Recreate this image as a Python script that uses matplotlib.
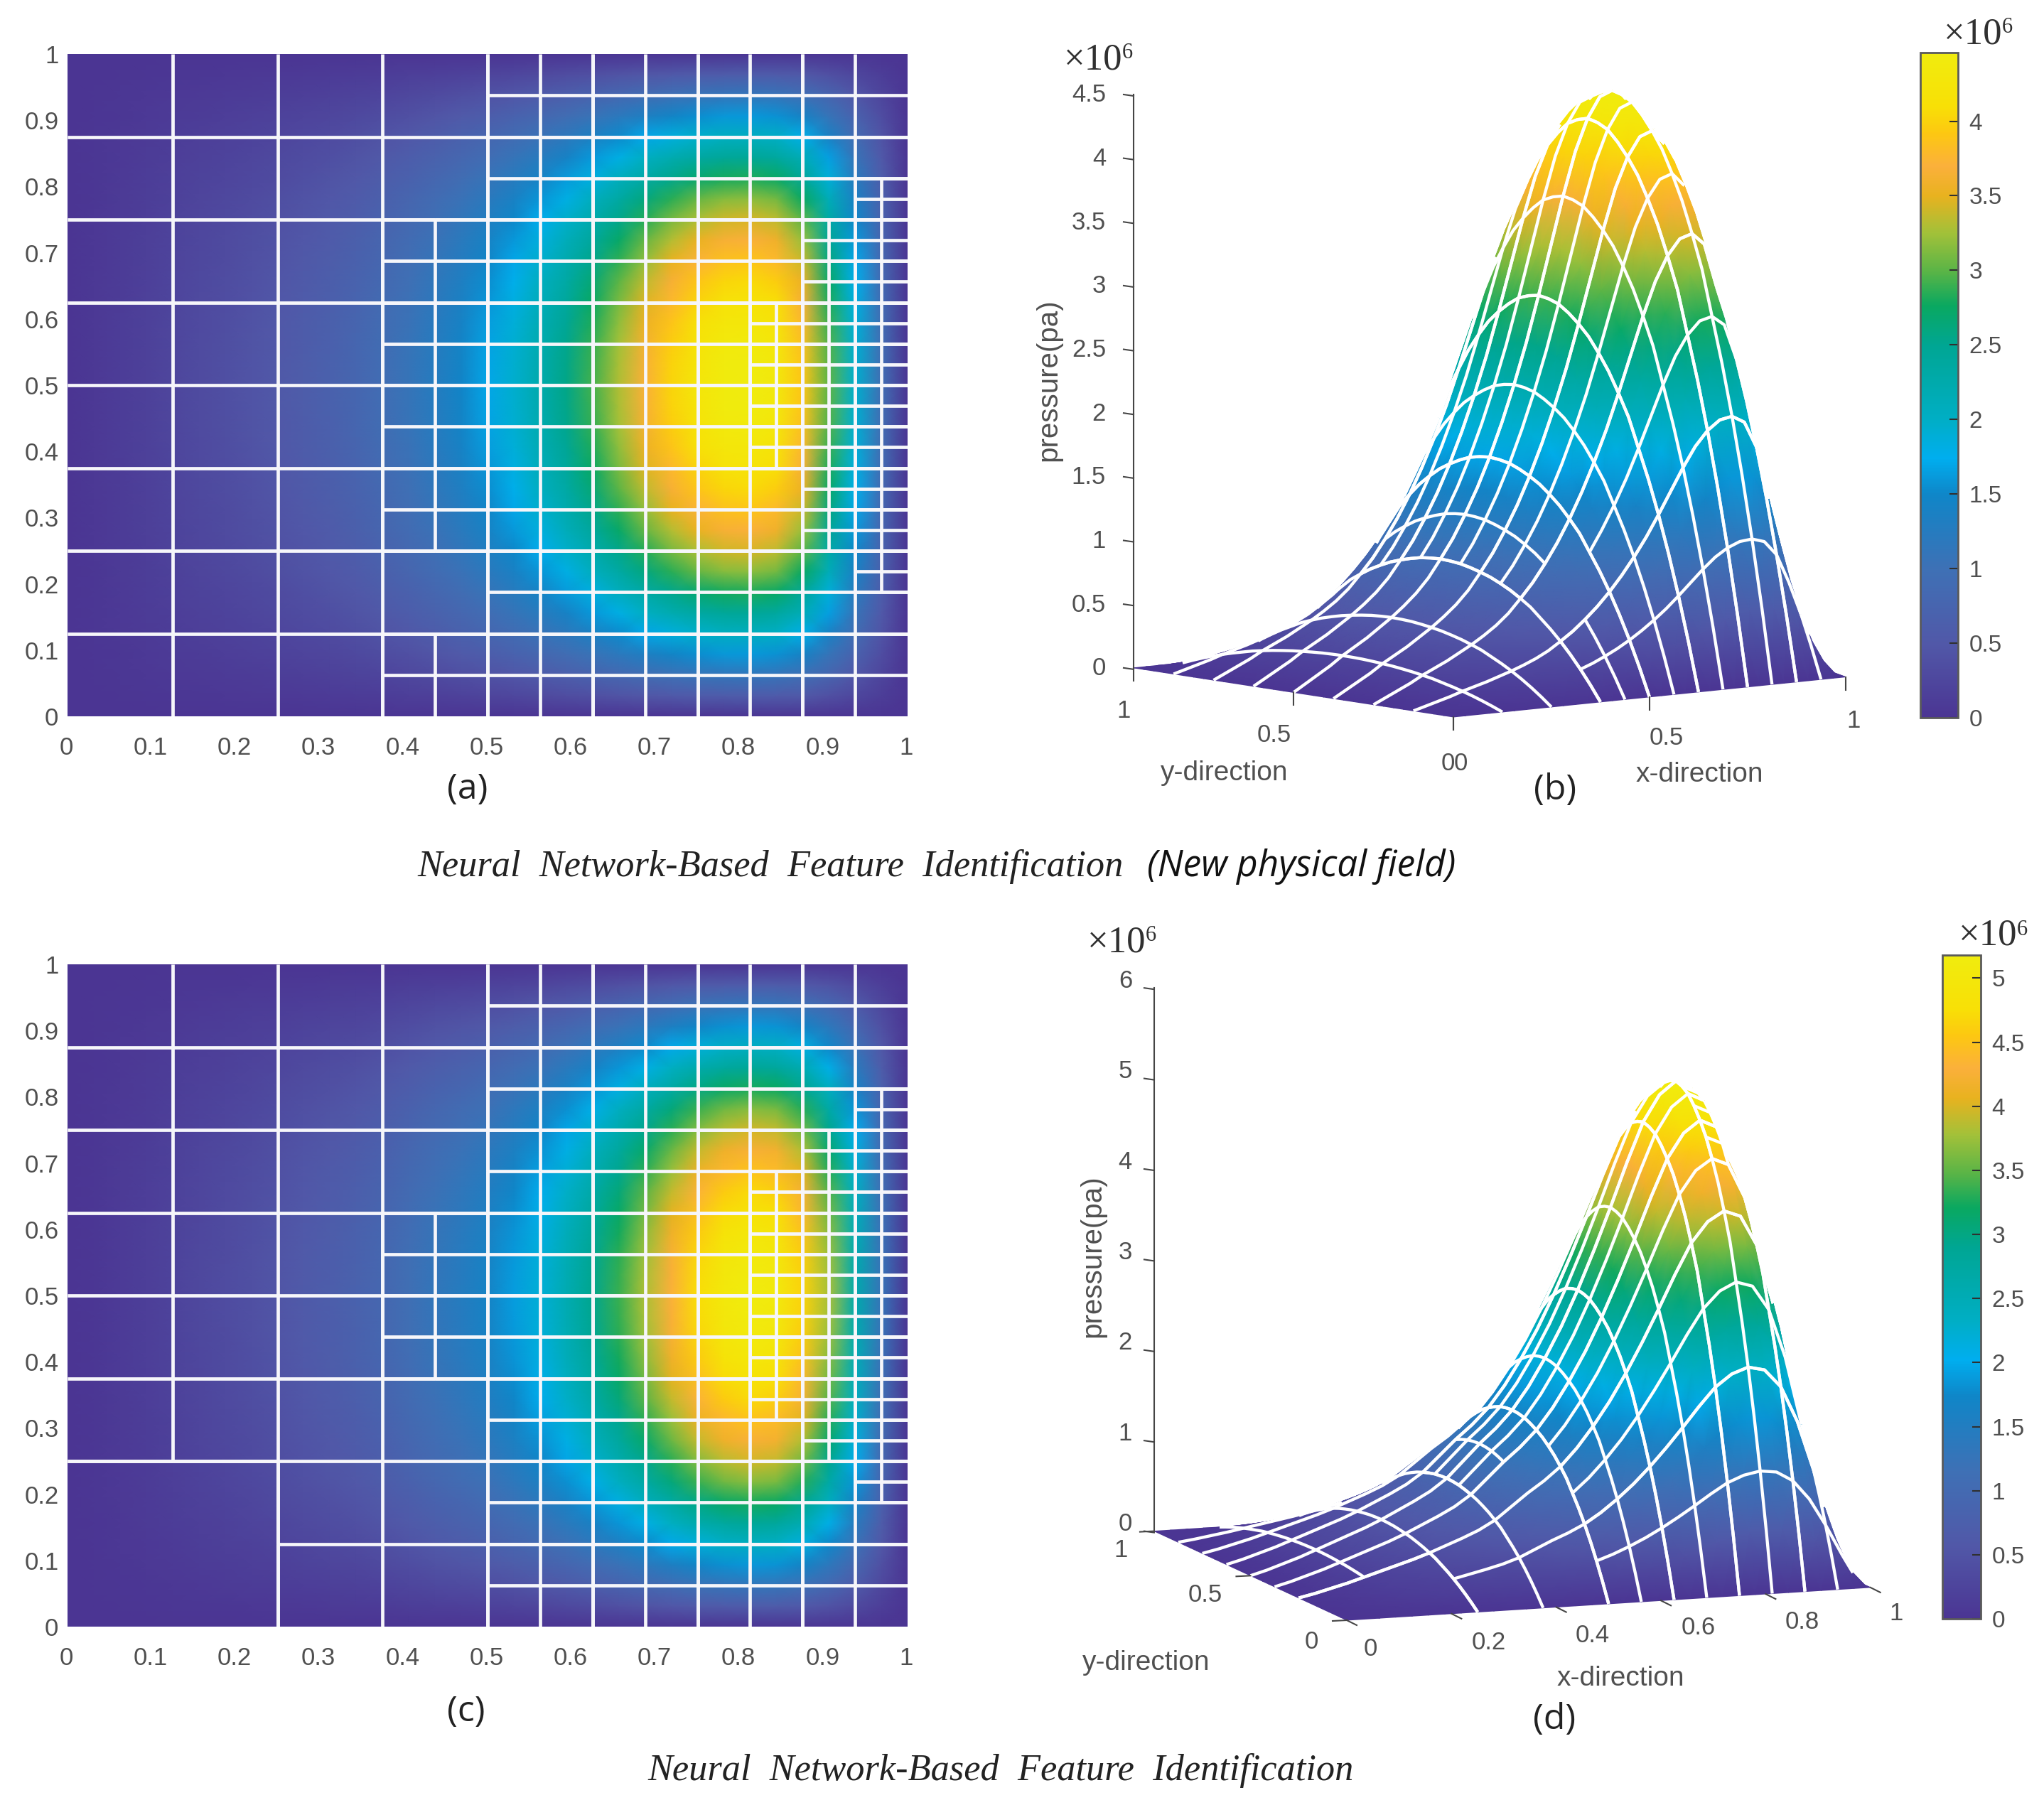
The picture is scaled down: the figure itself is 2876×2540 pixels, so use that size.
import numpy as np
import matplotlib
matplotlib.use('Agg')
import matplotlib.pyplot as plt
from matplotlib.cm import ScalarMappable
from matplotlib.colors import LinearSegmentedColormap, Normalize
from matplotlib.transforms import ScaledTranslation

W, H = 2876, 2540

# pressure profiles (x 1e6 Pa), step 1/32 in x
p_x_top = [0, .06, .12, .18, .25, .31, .37, .44, .51, .59, .68, .79, .93, 1.08, 1.26, 1.46, 1.69,
           1.95, 2.24, 2.56, 2.92, 3.30, 3.68, 4.02, 4.27, 4.43, 4.47, 4.35, 3.9, 3.0, 1.95, .95, 0]
p_x_bot = [0, .05, .11, .17, .24, .31, .38, .45, .53, .62, .71, .81, .94, 1.12, 1.30, 1.46, 1.65,
           1.9, 2.2, 2.54, 2.93, 3.36, 3.82, 4.3, 4.74, 5.03, 5.17, 5.08, 4.65, 3.8, 2.6, 1.25, 0]
# relative pressure across y, same step
p_y_rel = [0, .13, .25, .36, .46, .55, .63, .71, .77, .825, .87, .91, .94, .965, .985, .995, 1,
           .995, .985, .965, .94, .91, .87, .825, .77, .71, .63, .55, .46, .36, .25, .13, 0]

vmax_top = 4.46
vmax_bot = 5.18

cmap_pos = [0, .11, .22, .335, .39, .45, .56, .62, .67, .73, .785, .83, .88, .92, 1]
cmap_col = ['#4b3593', '#5158a8', '#3f70b5', '#0f86c8', '#00aeef', '#00aec4', '#00a693', '#0aa860',
            '#58b447', '#a3c139', '#e8b21f', '#fbb03b', '#fdc811', '#f8e006', '#f0ec0e']
parula = LinearSegmentedColormap.from_list('scan', list(zip(cmap_pos, cmap_col)), N=512)

# refined regions of the quadtree: x0, x1, y0, y1, cell size (in 1/32 units)
base_right = [(16, 32, 0, 32, 2)]
cells_top = base_right + [(12, 16, 8, 24, 2), (12, 16, 0, 4, 2),
                          (30, 32, 6, 26, 1), (28, 30, 8, 24, 1), (26, 28, 12, 20, 1)]
cells_bot = base_right + [(12, 16, 12, 20, 2),
                          (30, 32, 6, 26, 1), (28, 30, 8, 24, 1), (26, 28, 10, 22, 1)]
merged_bot = [(0, 8, 0, 8)]

heat_ticks = [0, .1, .2, .3, .4, .5, .6, .7, .8, .9, 1]
heat_labels = ['0', '0.1', '0.2', '0.3', '0.4', '0.5', '0.6', '0.7', '0.8', '0.9', '1']
cbar_ticks_top = [0, .5, 1, 1.5, 2, 2.5, 3, 3.5, 4]
cbar_ticks_bot = [0, .5, 1, 1.5, 2, 2.5, 3, 3.5, 4, 4.5, 5]
cbar_labels_top = ['0', '0.5', '1', '1.5', '2', '2.5', '3', '3.5', '4']
cbar_labels_bot = ['0', '0.5', '1', '1.5', '2', '2.5', '3', '3.5', '4', '4.5', '5']
z_ticks_b = [0, .5, 1, 1.5, 2, 2.5, 3, 3.5, 4, 4.5]
z_labels_b = ['0', '0.5', '1', '1.5', '2', '2.5', '3', '3.5', '4', '4.5']
z_ticks_d = [0, 1, 2, 3, 4, 5, 6]
x_ticks_b = [0, .5, 1]
x_labels_b = ['0', '0.5', '1']
y_ticks_b = [0, .5, 1]
y_labels_b = ['0', '0.5', '1']
x_ticks_d = [0, .2, .4, .6, .8, 1]
x_labels_d = ['0', '0.2', '0.4', '0.6', '0.8', '1']
y_ticks_d = [0, .5, 1]
y_labels_d = ['0', '0.5', '1']

TXT = '#505050'
SANS = 'Liberation Sans'
FS = 25

grid = np.linspace(0, 1, 33)
Z_top = np.outer(p_y_rel, p_x_top)
Z_bot = np.outer(p_y_rel, p_x_bot)


def leaf_edges(regions, merged=()):
    # walks the 1/8 base grid and returns every inner cell edge
    edges = set()

    def rect(x0, x1, y0, y1):
        if x0 > 0:
            edges.add((x0, y0, x0, y1))
        if x1 < 32:
            edges.add((x1, y0, x1, y1))
        if y0 > 0:
            edges.add((x0, y0, x1, y0))
        if y1 < 32:
            edges.add((x0, y1, x1, y1))

    for i in range(0, 32, 4):
        for j in range(0, 32, 4):
            if any(m[0] <= i < m[1] and m[2] <= j < m[3] for m in merged):
                continue
            rect(i, i + 4, j, j + 4)
    for m in merged:
        rect(*m)
    for r in regions:
        for i in np.arange(r[0], r[1], r[4]):
            for j in np.arange(r[2], r[3], r[4]):
                rect(int(i), int(i + r[4]), int(j), int(j + r[4]))
    return [tuple(v / 32 for v in e) for e in edges]


def pixax(x0, y0, x1, y1):
    return fig.add_axes([x0 / W, 1 - y1 / H, (x1 - x0) / W, (y1 - y0) / H])


def heatmap(rect, Z, vmax, edges):
    ax = pixax(*rect)
    ax.pcolormesh(grid, grid, Z, shading='gouraud', cmap=parula, vmin=0, vmax=vmax)
    for e in edges:
        ax.plot([e[0], e[2]], [e[1], e[3]], color='#f6f6fa', lw=3.4, solid_capstyle='butt')
    ax.set_xlim(0, 1)
    ax.set_ylim(0, 1)
    for s in ax.spines.values():
        s.set_visible(False)
    ax.set_xticks(heat_ticks, heat_labels, fontsize=FS, color=TXT, family=SANS)
    ax.set_yticks(heat_ticks, heat_labels, fontsize=FS, color=TXT, family=SANS)
    ax.tick_params(axis='x', length=0, pad=20)
    ax.tick_params(axis='y', length=0, pad=9)
    shift = ScaledTranslation(-.015, 0, fig.dpi_scale_trans)
    for t in ax.get_xticklabels():
        t.set_transform(t.get_transform() + shift)
    return ax


def surf(Z, x, y):
    # bilinear lookup in the table, z units as in the table
    fx = np.clip(x, 0, 1) * 32
    fy = np.clip(y, 0, 1) * 32
    i = np.minimum(fx.astype(int), 31)
    j = np.minimum(fy.astype(int), 31)
    a = fx - i
    b = fy - j
    return (Z[j, i] * (1 - a) * (1 - b) + Z[j, i + 1] * a * (1 - b)
            + Z[j + 1, i] * (1 - a) * b + Z[j + 1, i + 1] * a * b)


class View:
    def __init__(self, ox, oy, az, el, s, zs):
        self.ox, self.oy, self.s, self.zs = ox, oy, s, zs
        self.az = np.radians(az)
        self.el = np.radians(el)

    def project(self, x, y, z):
        c, d = np.cos(self.az), np.sin(self.az)
        sx = self.ox + self.s * (-d * np.asarray(x) + c * np.asarray(y))
        sy = self.oy - self.s * np.sin(self.el) * (-c * np.asarray(x) - d * np.asarray(y)) - self.zs * np.asarray(z)
        return sx, sy

    def visible(self, Z, x, y, z):
        # march toward the viewer, hidden if the surface rises above the ray
        c, d = np.cos(self.az), np.sin(self.az)
        ce, se = np.cos(self.el), np.sin(self.el)
        k = self.s * ce / self.zs   # z units per world unit
        vis = np.ones(x.shape, bool)
        for t in np.linspace(.006, 1.5, 220):
            xr = x + t * ce * c
            yr = y + t * ce * d
            ins = (xr >= 0) & (xr <= 1) & (yr >= 0) & (yr <= 1)
            zr = z + t * se * k
            vis &= ~(ins & (surf(Z, xr, yr) > zr + .012))
        return vis


def surface3d(ov, view, Z, vmax, edges):
    X, Y = np.meshgrid(grid, grid)
    sx, sy = view.project(X, Y, Z)
    # far corner first so that the front of the hill paints over its back
    ov.pcolormesh(sx[::-1, ::-1], sy[::-1, ::-1], Z[::-1, ::-1], shading='gouraud',
                  cmap=parula, vmin=0, vmax=vmax)
    for e in edges:
        n = max(2, int(round(max(abs(e[2] - e[0]), abs(e[3] - e[1])) * 96)) + 1)
        xs = np.linspace(e[0], e[2], n)
        ys = np.linspace(e[1], e[3], n)
        zs = surf(Z, xs, ys)
        vis = view.visible(Z, xs, ys, zs)
        px, py = view.project(xs, ys, zs)
        ov.plot(np.where(vis, px, np.nan), np.where(vis, py, np.nan), color='white', lw=3.1,
                solid_capstyle='butt')


def axes3d(ov, view, zticks, zlabels, ztop, xt, xl, yt, yl, xoff, yoff, tick, ytick, zlab_x, zlab_dy):
    ax_x, ax_y = view.project(np.zeros(2), np.ones(2), [0, ztop])
    ov.plot(ax_x, ax_y, color='#454545', lw=1.5)
    for v, lab in zip(zticks, zlabels):
        px, py = view.project(0, 1, v)
        ov.plot([px - 14, px], [py, py + 2], color='#454545', lw=1.5)
        ov.text(zlab_x, py + zlab_dy, lab, ha='right', va='center', fontsize=FS, color=TXT, family=SANS)
    for v, lab, off in zip(xt, xl, xoff):
        px, py = view.project(v, 0, 0)
        ov.plot([px, px + tick[0]], [py, py + tick[1]], color='#454545', lw=1.5)
        ov.text(px + off[0], py + off[1], lab, ha='center', va='center', fontsize=FS, color=TXT, family=SANS)
    for v, lab, off in zip(yt, yl, yoff):
        px, py = view.project(0, v, 0)
        ov.plot([px, px + ytick[0]], [py, py + ytick[1]], color='#454545', lw=1.5)
        ov.text(px + off[0], py + off[1], lab, ha='center', va='center', fontsize=FS, color=TXT, family=SANS)


def colorbar(rect, vmax, ticks, labels):
    cax = pixax(*rect)
    cb = fig.colorbar(ScalarMappable(Normalize(0, vmax), parula), cax=cax)
    cb.set_ticks(ticks, labels=labels)
    cb.ax.tick_params(direction='in', length=9, width=1.5, color='#303030', labelsize=FS - 1,
                      labelcolor=TXT, pad=11)
    for t in cb.ax.get_yticklabels():
        t.set_family(SANS)
    cb.outline.set_edgecolor('#5a5a5a')
    cb.outline.set_linewidth(2)


def sci(x, y):
    ov.text(x, y, '×10', ha='right', va='center', fontsize=38, family='Liberation Serif', color='#303030')
    ov.text(x, y - 9, '6', ha='left', va='center', fontsize=22, family='Liberation Serif', color='#303030')


fig = plt.figure(figsize=(W / 100, H / 100), dpi=100, facecolor='white')
ov = fig.add_axes([0, 0, 1, 1], zorder=5)
ov.set_xlim(0, W)
ov.set_ylim(H, 0)
ov.axis('off')
ov.patch.set_alpha(0)

edges_top = leaf_edges(cells_top)
edges_bot = leaf_edges(cells_bot, merged_bot)

heatmap((95, 76, 1277, 1008), Z_top, vmax_top, edges_top)
heatmap((95, 1357, 1277, 2289), Z_bot, vmax_bot, edges_bot)

view_b = View(2045, 1009, 230.8, 7.2, 712, 179.3)
view_d = View(1895, 2280, 249.8, 9.8, 785, 127.4)

surface3d(ov, view_b, Z_top, vmax_top, edges_top)
surface3d(ov, view_d, Z_bot, vmax_bot, edges_bot)

axes3d(ov, view_b, z_ticks_b, z_labels_b, 4.5, x_ticks_b, x_labels_b, y_ticks_b, y_labels_b,
       [(10, 65), (24, 58), (11, 62)], [(-8, 65), (-27, 60), (-14, 61)], (0, 18), (0, 18), 1556, 1)
axes3d(ov, view_d, z_ticks_d, [str(v) for v in z_ticks_d], 6, x_ticks_d, x_labels_d, y_ticks_d, y_labels_d,
       [(33, 40), (52, 41), (51, 40), (53, 38), (51, 39), (36, 37)], [(-50, 30), (-64, 27), (-47, 27)],
       (14, 7), (-20, 1), 1593, -10)

colorbar((2702, 74, 2755, 1010), vmax_top, cbar_ticks_top, cbar_labels_top)
colorbar((2733, 1344, 2787, 2278), vmax_bot, cbar_ticks_bot, cbar_labels_bot)

sci(1579, 84)
sci(2817, 48)
sci(1612, 1326)
sci(2838, 1317)

LAB = 29
ov.text(1475, 535, 'pressure(pa)', rotation=90, ha='center', va='center', fontsize=LAB, color=TXT, family=SANS)
ov.text(1537, 1768, 'pressure(pa)', rotation=90, ha='center', va='center', fontsize=LAB, color=TXT, family=SANS)
ov.text(1723, 1088, 'y-direction', ha='center', va='center', fontsize=LAB - 1, color=TXT, family=SANS)
ov.text(2391, 1090, 'x-direction', ha='center', va='center', fontsize=LAB - 1, color=TXT, family=SANS)
ov.text(1613, 2340, 'y-direction', ha='center', va='center', fontsize=LAB - 1, color=TXT, family=SANS)
ov.text(2280, 2362, 'x-direction', ha='center', va='center', fontsize=LAB - 1, color=TXT, family=SANS)

for lab, x, y in [('(a)', 658, 1111), ('(b)', 2188, 1112), ('(c)', 656, 2409), ('(d)', 2187, 2420)]:
    ov.text(x, y, lab, ha='center', va='center', fontsize=36, family='Open Sans', color='#222222')

ov.text(587, 1219, 'Neural  Network-Based  Feature  Identification', ha='left', va='center',
        fontsize=37.7, family='Liberation Serif', style='italic', color='#222222')
ov.text(1614, 1219, '(New physical field)', ha='left', va='center',
        fontsize=36.9, family='Open Sans', style='italic', color='#111111')
ov.text(911, 2491, 'Neural  Network-Based  Feature  Identification', ha='left', va='center',
        fontsize=37.7, family='Liberation Serif', style='italic', color='#222222')

fig.savefig('out.png', dpi=100)
